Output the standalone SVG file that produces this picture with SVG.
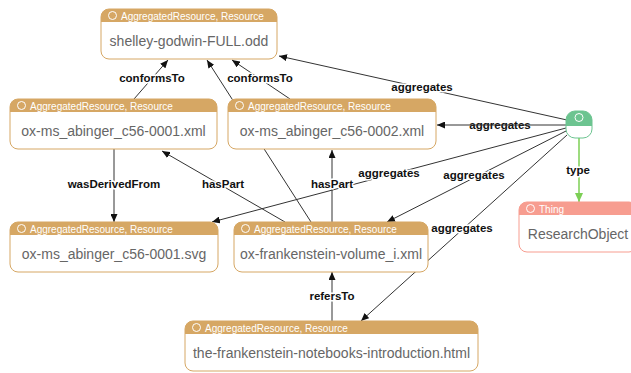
<svg xmlns="http://www.w3.org/2000/svg" width="631" height="373" viewBox="0 0 631 373">
  <style>
    .edge { stroke: #333; stroke-width: 1; fill: none; }
    .type-edge { stroke: #7ccf55; stroke-width: 1.5; fill: none; }
    .lbl { font-family: "Liberation Sans", Arial, sans-serif; font-size: 11.5px; font-weight: bold; fill: #111; text-anchor: middle; }
    .halo { stroke: #fff; stroke-width: 3; paint-order: stroke; stroke-linejoin: round; }
    .box { fill: #fff; stroke: #d6a764; stroke-width: 1; }
    .hdr { fill: #d6a764; }
    .htxt { font-family: "Liberation Sans", Arial, sans-serif; font-size: 10px; fill: #fff; }
    .btxt { font-family: "Liberation Sans", Arial, sans-serif; font-size: 14px; fill: #666; text-anchor: middle; }
    .ring { fill: none; stroke: #fff; stroke-width: 1; }
    .thing-box { fill: #fff; stroke: #f79d90; stroke-width: 1; }
    .thing-hdr { fill: #f79d90; }
    .bn-box { fill: #fff; stroke: #6cc490; stroke-width: 1; }
    .bn-hdr { fill: #6cc490; }
  </style>
  <defs>
    <marker id="arrow" markerWidth="8" markerHeight="7" refX="8" refY="3.5" orient="auto" markerUnits="userSpaceOnUse">
      <path d="M0,0 L8,3.5 L0,7 Z" fill="#111"/>
    </marker>
    <marker id="arrow-green" markerWidth="9" markerHeight="8" refX="9" refY="4" orient="auto" markerUnits="userSpaceOnUse">
      <path d="M0,0 L9,4 L0,8 Z" fill="#7ccf55"/>
    </marker>
  </defs>

  <g id="connectors">
    <!-- conformsTo -->
    <line class="edge" x1="134" y1="99" x2="168" y2="60" marker-end="url(#arrow)"/>
    <line class="edge" x1="290" y1="99" x2="232" y2="60" marker-end="url(#arrow)"/>
    <!-- volume_i to the odd file, passes behind c56-0002 -->
    <line class="edge" x1="311" y1="222" x2="207" y2="60" marker-end="url(#arrow)"/>
    <!-- hasPart -->
    <line class="edge" x1="285" y1="222" x2="162" y2="151" marker-end="url(#arrow)"/>
    <line class="edge" x1="332" y1="222" x2="332" y2="150" marker-end="url(#arrow)"/>
    <!-- wasDerivedFrom -->
    <line class="edge" x1="114" y1="149" x2="114" y2="222" marker-end="url(#arrow)"/>
    <!-- refersTo -->
    <line class="edge" x1="332" y1="321" x2="332" y2="272" marker-end="url(#arrow)"/>
    <!-- aggregates from the research object -->
    <line class="edge" x1="567" y1="120" x2="279" y2="56" marker-end="url(#arrow)"/>
    <line class="edge" x1="566" y1="128" x2="212" y2="222" marker-end="url(#arrow)"/>
    <line class="edge" x1="566" y1="131" x2="387" y2="222" marker-end="url(#arrow)"/>
    <line class="edge" x1="567" y1="135" x2="361" y2="321" marker-end="url(#arrow)"/>
    <!-- type -->
    <line class="type-edge" x1="579" y1="138" x2="579" y2="202" marker-end="url(#arrow-green)"/>

    <g id="edge-labels">
      <text class="lbl halo" x="152" y="82">conformsTo</text>
      <text class="lbl halo" x="260" y="82">conformsTo</text>
      <text class="lbl halo" x="422" y="91">aggregates</text>
      <text class="lbl halo" x="114" y="188">wasDerivedFrom</text>
      <text class="lbl halo" x="223" y="188">hasPart</text>
      <text class="lbl halo" x="332" y="188">hasPart</text>
      <text class="lbl halo" x="389" y="177">aggregates</text>
      <text class="lbl halo" x="474" y="179">aggregates</text>
      <text class="lbl halo" x="462" y="232">aggregates</text>
      <text class="lbl halo" x="578" y="174">type</text>
      <text class="lbl halo" x="332" y="300">refersTo</text>
      <text class="lbl" x="500" y="129">aggregates</text>
    </g>
    <line class="edge" x1="566" y1="125" x2="437" y2="125" marker-end="url(#arrow)"/>
  </g>

  <g id="node-odd">
    <rect class="box" x="101" y="9" width="176" height="50" rx="8"/>
    <path class="hdr" d="M101,22 V17 A8,8 0 0 1 109,9 H269 A8,8 0 0 1 277,17 V22 Z"/>
    <circle class="ring" cx="112.5" cy="15.5" r="4"/>
    <text class="htxt" x="121" y="19.5">AggregatedResource, Resource</text>
    <text class="btxt" x="189" y="46">shelley-godwin-FULL.odd</text>
  </g>

  <g id="node-c56-0001-xml">
    <rect class="box" x="10" y="99" width="207" height="50" rx="8"/>
    <path class="hdr" d="M10,112 V107 A8,8 0 0 1 18,99 H209 A8,8 0 0 1 217,107 V112 Z"/>
    <circle class="ring" cx="21.5" cy="105.5" r="4"/>
    <text class="htxt" x="30" y="109.5">AggregatedResource, Resource</text>
    <text class="btxt" x="113.5" y="136">ox-ms_abinger_c56-0001.xml</text>
  </g>

  <g id="node-c56-0002-xml">
    <rect class="box" x="228" y="99" width="208" height="50" rx="8"/>
    <path class="hdr" d="M228,112 V107 A8,8 0 0 1 236,99 H428 A8,8 0 0 1 436,107 V112 Z"/>
    <circle class="ring" cx="239.5" cy="105.5" r="4"/>
    <text class="htxt" x="248" y="109.5">AggregatedResource, Resource</text>
    <text class="btxt" x="332" y="136">ox-ms_abinger_c56-0002.xml</text>
  </g>

  <g id="node-c56-0001-svg">
    <rect class="box" x="10" y="222" width="208" height="50" rx="8"/>
    <path class="hdr" d="M10,235 V230 A8,8 0 0 1 18,222 H210 A8,8 0 0 1 218,230 V235 Z"/>
    <circle class="ring" cx="21.5" cy="228.5" r="4"/>
    <text class="htxt" x="30" y="232.5">AggregatedResource, Resource</text>
    <text class="btxt" x="114" y="259">ox-ms_abinger_c56-0001.svg</text>
  </g>

  <g id="node-volume-i">
    <rect class="box" x="234" y="222" width="194" height="50" rx="8"/>
    <path class="hdr" d="M234,235 V230 A8,8 0 0 1 242,222 H420 A8,8 0 0 1 428,230 V235 Z"/>
    <circle class="ring" cx="245.5" cy="228.5" r="4"/>
    <text class="htxt" x="254" y="232.5">AggregatedResource, Resource</text>
    <text class="btxt" x="331" y="259">ox-frankenstein-volume_i.xml</text>
  </g>

  <g id="node-introduction">
    <rect class="box" x="185" y="321" width="293" height="50" rx="8"/>
    <path class="hdr" d="M185,334 V329 A8,8 0 0 1 193,321 H470 A8,8 0 0 1 478,329 V334 Z"/>
    <circle class="ring" cx="196.5" cy="327.5" r="4"/>
    <text class="htxt" x="205" y="331.5">AggregatedResource, Resource</text>
    <text class="btxt" x="331.5" y="358">the-frankenstein-notebooks-introduction.html</text>
  </g>

  <g id="node-research-object">
    <rect class="bn-box" x="566" y="111" width="26" height="27" rx="9"/>
    <path class="bn-hdr" d="M566,126 V120 A9,9 0 0 1 575,111 H583 A9,9 0 0 1 592,120 V126 Z"/>
    <circle class="ring" cx="579" cy="117.5" r="4"/>
  </g>

  <g id="node-thing">
    <rect class="thing-box" x="519" y="202" width="118" height="50" rx="8"/>
    <path class="thing-hdr" d="M519,215 V210 A8,8 0 0 1 527,202 H629 A8,8 0 0 1 637,210 V215 Z"/>
    <circle class="ring" cx="530.5" cy="208.5" r="4"/>
    <text class="htxt" x="539" y="212.5">Thing</text>
    <text class="btxt" x="578" y="239">ResearchObject</text>
  </g>
</svg>
